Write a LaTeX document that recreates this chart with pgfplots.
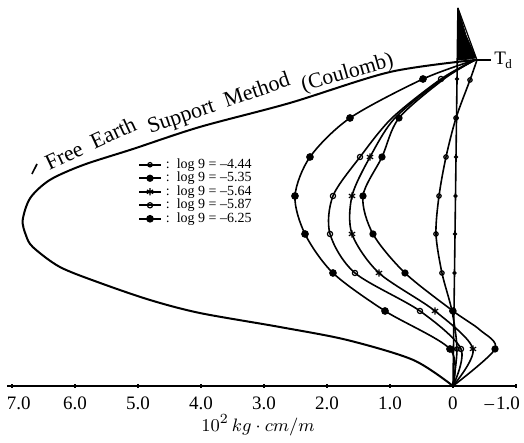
\documentclass[border=0pt]{standalone}
\usepackage{fontspec}
\setmainfont{Liberation Serif}
\usepackage{pgfplots}
\pgfplotsset{compat=1.18}
\begin{document}
\begin{tikzpicture}
\begin{axis}[
  name=ax,
  scale only axis,
  width=255pt, height=221.5pt,
  xmin=-1.0159, xmax=7.0794,
  ymin=-57, ymax=386,
  x dir=reverse,
  axis x line=center, axis y line=none,
  axis line style={-, line width=0.9pt},
  xtick={7,6,5,4,3,2,1,0,-1},
  xticklabels={{\rlap{\kern-2.5pt 7.0}},6.0,5.0,4.0,3.0,2.0,1.0,0,{\llap{--\kern1pt1.0\kern-2pt}}},
  ytick=\empty,
  major tick length=2pt,
  tick style={black, line width=0.6pt},
  xticklabel style={font=\fontsize{9.5}{10}\selectfont, yshift=-1pt},
  /pgf/number format/assume math mode=true,
  clip=false,
  legend style={draw=none, fill=none, at={(axis cs:5.0,230)}, anchor=north west,
    font=\fontsize{7}{7.5}\selectfont, inner sep=0pt, row sep=-1.6pt,
    nodes={inner sep=1pt}},
  legend cell align=left,
  legend image code/.code={\draw[#1, mark indices={2}] plot coordinates {(0cm,0cm) (0.19cm,0cm) (0.38cm,0cm)};},
  every axis plot/.append style={black, line width=0.8pt},
]

% E : log 9 = -4.44
\addplot[smooth, mark=o, mark size=1.1pt, mark options={line width=0.6pt, fill=white}, mark indices={2,3,4,5,6,7,8,9}]
 coordinates {(-0.381,326) (-0.270,306) (-0.048,268) (0.111,229) (0.222,190) (0.270,152) (0.175,113) (0.016,75) (-0.063,37) (0,0)};
\addlegendentry{\,:\ \ log 9 = --4.44}
% D : log 9 = -5.35
\addplot[smooth, mark=*, mark size=1.4pt, mark indices={3,4,5,6,7,8,10}]
 coordinates {(-0.349,326) (0.143,307) (0.857,268) (1.127,229) (1.429,190) (1.270,152) (0.762,113) (0,75) (-0.429,56) (-0.667,37) (0,0)};
\addlegendentry{\,:\ \ log 9 = --5.35}
% C : log 9 = -5.64
\addplot[smooth, mark=asterisk, mark size=1.8pt, mark options={line width=0.6pt}, mark indices={4,5,6,7,8,9}]
 coordinates {(-0.349,326) (0.167,307) (0.921,268) (1.317,229) (1.603,190) (1.603,152) (1.175,113) (0.286,75) (-0.317,37) (0,0)};
\addlegendentry{\,:\ \ log 9 = --5.64}
% B : log 9 = -5.87
\addplot[smooth, mark=o, mark size=1.3pt, mark options={line width=0.6pt, fill=white}, mark indices={2,4,5,6,7,8,9}]
 coordinates {(-0.349,326) (0.190,307) (0.968,268) (1.476,229) (1.905,190) (1.952,152) (1.556,113) (0.524,75) (-0.127,37) (0,0)};
\addlegendentry{\,:\ \ log 9 = --5.87}
% A : log 9 = -6.25
\addplot[smooth, mark=*, mark size=1.5pt, mark indices={2,3,4,5,6,7,8,9}]
 coordinates {(-0.349,326) (0.476,307) (1.635,268) (2.270,229) (2.508,190) (2.349,152) (1.905,113) (1.079,75) (0.048,37) (0,0)};
\addlegendentry{\,:\ \ log 9 = --6.25}

% Free Earth Support Method (Coulomb)
\addplot[smooth, line width=1pt, forget plot]
 coordinates {(-0.349,326) (1.00,314) (2.59,283) (4.02,259) (5.08,237) (5.87,221) (6.40,206) (6.71,188) (6.83,166) (6.78,151) (6.67,139) (6.24,119) (5.60,103) (4.81,86) (4.02,73) (2.75,59) (1.68,46) (0.63,26) (0,0)};

% sheet pile line with node marks
\addplot[line width=0.8pt, mark=*, mark size=0.6pt, mark indices={2,3,4,5,6,7,8,9}, forget plot]
 coordinates {(0,0) (-0.008,37) (-0.016,75) (-0.024,113) (-0.032,152) (-0.040,190) (-0.048,229) (-0.056,268) (-0.064,307) (-0.079,378)};

% dark fan at the top (tie level)
\addplot[fill=black, draw=black, line width=0.4pt, forget plot]
 coordinates {(-0.079,378) (-0.206,351) (-0.365,328) (-0.143,326) (-0.079,326) (-0.079,378)};
\addplot[line width=0.6pt, forget plot] coordinates {(-0.079,378) (-0.381,326)};
\addplot[line width=0.8pt, forget plot] coordinates {(-0.349,326) (-0.60,326)};

% labels
\node[anchor=west, font=\fontsize{9.5}{10}\selectfont, inner sep=0pt] at (axis cs:-0.651,326) {T\kern-0.3pt\raisebox{-2pt}{\fontsize{6.5}{6.5}\selectfont d}};
\node[font=\fontsize{9.5}{10}\selectfont] at (axis cs:3.095,-39) {$10^{2}\,kg\cdot cm/m$};

\draw[line width=0.8pt] (axis cs:6.683,212) -- (axis cs:6.603,222);
\node[anchor=base west, rotate=25, inner sep=0pt, font=\fontsize{11}{12}\selectfont] at (axis cs:6.413,215) {Free\ \ Earth};
\node[anchor=base west, rotate=19, inner sep=0pt, font=\fontsize{11}{12}\selectfont] at (axis cs:4.810,252) {Support\ \ Method};
\node[anchor=base west, rotate=16, inner sep=0pt, font=\fontsize{10.8}{11}\selectfont] at (axis cs:2.381,294) {(Coulomb)};
\end{axis}
\pgfresetboundingbox
\useasboundingbox ([xshift=-3.5pt]ax.south west) rectangle ([xshift=3.5pt]ax.north east);
\end{tikzpicture}
\end{document}
